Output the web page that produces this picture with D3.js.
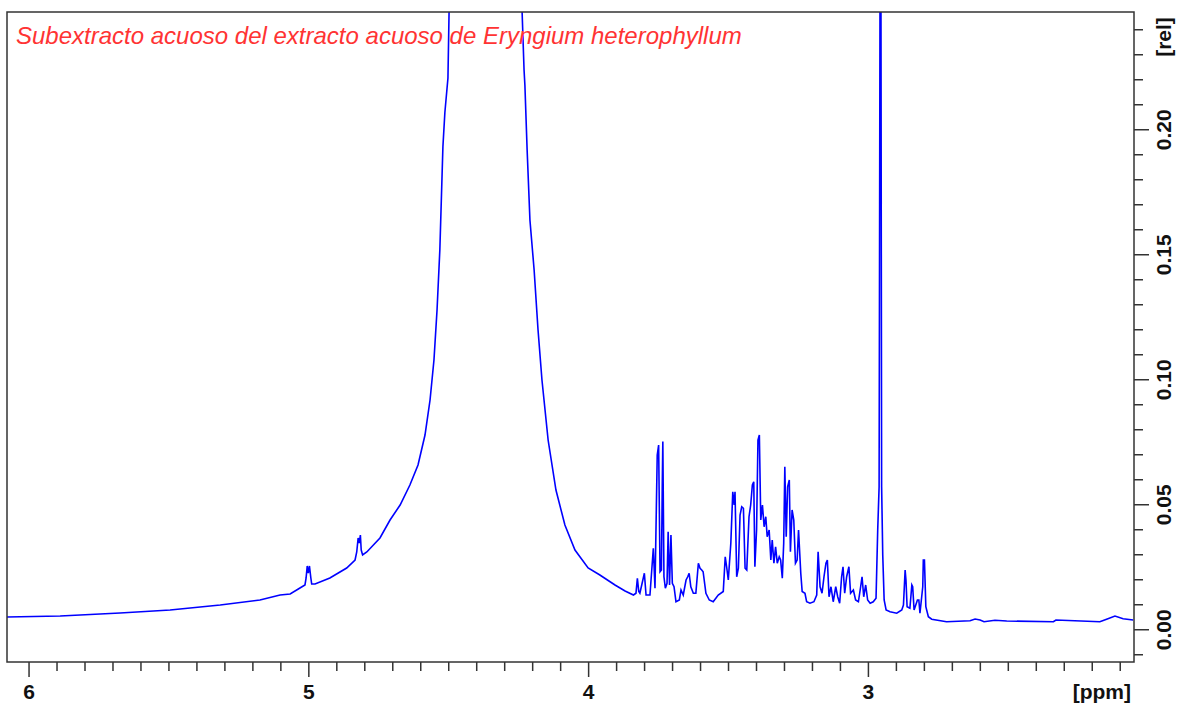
<!DOCTYPE html>
<html>
<head>
<meta charset="utf-8">
<script src="https://cdn.jsdelivr.net/npm/d3@7"></script>
<style>
  body { margin: 0; background: #fff; }
  svg { display: block; }
</style>
</head>
<body>
<div id="chart"></div>
<script>
// Chart text
var title = "Subextracto acuoso del extracto acuoso de Eryngium heterophyllum";
var xUnit = "[ppm]";
var yUnit = "[rel]";

// Tick values
var xMajor = [6, 5, 4, 3];
var yMajor = [0.00, 0.05, 0.10, 0.15, 0.20];

// Spectrum (chemical shift in ppm, relative intensity)
var ppm = [
  6.077, 5.887, 5.673, 5.494, 5.315, 5.173, 5.101, 5.065, 5.030, 5.012,
  5.008, 5.004, 5.000, 4.996, 4.991, 4.988, 4.976, 4.923, 4.863, 4.833,
  4.827, 4.822, 4.818, 4.814, 4.811, 4.806, 4.791, 4.744, 4.708, 4.672,
  4.637, 4.608, 4.583, 4.565, 4.551, 4.540, 4.530, 4.519, 4.512, 4.501,
  4.497, 4.458, 4.368, 4.279, 4.236, 4.229, 4.226, 4.218, 4.208, 4.193,
  4.179, 4.165, 4.143, 4.115, 4.083, 4.047, 4.000, 3.958, 3.904, 3.868,
  3.838, 3.829, 3.824, 3.819, 3.815, 3.799, 3.793, 3.779, 3.767, 3.761,
  3.753, 3.748, 3.743, 3.738, 3.735, 3.733, 3.729, 3.724, 3.718, 3.714,
  3.709, 3.704, 3.699, 3.693, 3.686, 3.674, 3.668, 3.660, 3.650, 3.644,
  3.639, 3.633, 3.624, 3.615, 3.606, 3.600, 3.594, 3.589, 3.579, 3.567,
  3.553, 3.535, 3.517, 3.510, 3.505, 3.499, 3.490, 3.483, 3.478, 3.475,
  3.469, 3.463, 3.457, 3.451, 3.445, 3.439, 3.433, 3.425, 3.419, 3.413,
  3.408, 3.404, 3.398, 3.393, 3.388, 3.383, 3.377, 3.371, 3.365, 3.360,
  3.353, 3.347, 3.342, 3.336, 3.330, 3.324, 3.317, 3.312, 3.306, 3.301,
  3.297, 3.292, 3.287, 3.281, 3.277, 3.271, 3.265, 3.259, 3.253, 3.248,
  3.240, 3.235, 3.225, 3.219, 3.207, 3.193, 3.183, 3.178, 3.171, 3.164,
  3.157, 3.150, 3.145, 3.139, 3.132, 3.124, 3.115, 3.108, 3.101, 3.094,
  3.089, 3.083, 3.076, 3.068, 3.062, 3.052, 3.044, 3.034, 3.026, 3.021,
  3.015, 3.008, 3.001, 2.992, 2.981, 2.971, 2.965, 2.960, 2.956, 2.955,
  2.954, 2.951, 2.947, 2.942, 2.935, 2.921, 2.897, 2.879, 2.873, 2.867,
  2.864, 2.860, 2.850, 2.843, 2.840, 2.835, 2.823, 2.818, 2.814, 2.804,
  2.802, 2.798, 2.793, 2.784, 2.772, 2.719, 2.635, 2.617, 2.599, 2.585,
  2.546, 2.504, 2.337, 2.328, 2.171, 2.147, 2.117, 2.088, 2.052
];
var intensity = [
  0.0049, 0.0053, 0.0065, 0.0077, 0.0097, 0.0117, 0.0137, 0.0141, 0.0165, 0.0177,
  0.0205, 0.0253, 0.0225, 0.0253, 0.0205, 0.0181, 0.0181, 0.0205, 0.0245, 0.0277,
  0.0309, 0.0365, 0.0345, 0.0377, 0.0317, 0.0297, 0.0309, 0.0365, 0.0437, 0.0497,
  0.0577, 0.0657, 0.0777, 0.0917, 0.1077, 0.1277, 0.1517, 0.1930, 0.2067, 0.2205,
  0.2470, 0.4000, 0.8000, 0.4000, 0.2470, 0.2237, 0.2177, 0.1917, 0.1637, 0.1437,
  0.1197, 0.0997, 0.0757, 0.0557, 0.0417, 0.0317, 0.0245, 0.0217, 0.0177, 0.0153,
  0.0137, 0.0144, 0.0204, 0.0151, 0.0144, 0.0224, 0.0137, 0.0137, 0.0324, 0.0164,
  0.0697, 0.0737, 0.0230, 0.0237, 0.0577, 0.0751, 0.0210, 0.0164, 0.0184, 0.0390,
  0.0177, 0.0377, 0.0184, 0.0170, 0.0110, 0.0117, 0.0157, 0.0137, 0.0197, 0.0210,
  0.0224, 0.0170, 0.0144, 0.0144, 0.0264, 0.0244, 0.0237, 0.0230, 0.0144, 0.0117,
  0.0110, 0.0137, 0.0151, 0.0290, 0.0250, 0.0197, 0.0344, 0.0550, 0.0497, 0.0550,
  0.0210, 0.0244, 0.0457, 0.0490, 0.0484, 0.0244, 0.0237, 0.0450, 0.0497, 0.0577,
  0.0590, 0.0250, 0.0397, 0.0757, 0.0777, 0.0437, 0.0497, 0.0410, 0.0450, 0.0370,
  0.0397, 0.0277, 0.0357, 0.0264, 0.0330, 0.0264, 0.0290, 0.0277, 0.0204, 0.0344,
  0.0650, 0.0370, 0.0570, 0.0597, 0.0310, 0.0477, 0.0437, 0.0264, 0.0277, 0.0397,
  0.0224, 0.0151, 0.0144, 0.0110, 0.0104, 0.0110, 0.0137, 0.0310, 0.0170, 0.0144,
  0.0210, 0.0264, 0.0277, 0.0130, 0.0170, 0.0110, 0.0170, 0.0130, 0.0104, 0.0210,
  0.0250, 0.0144, 0.0210, 0.0250, 0.0144, 0.0157, 0.0117, 0.0110, 0.0170, 0.0210,
  0.0130, 0.0177, 0.0117, 0.0104, 0.0110, 0.0124, 0.0397, 0.0570, 0.3000, 0.6000,
  0.3000, 0.0570, 0.0297, 0.0117, 0.0077, 0.0070, 0.0064, 0.0077, 0.0097, 0.0237,
  0.0197, 0.0090, 0.0084, 0.0177, 0.0170, 0.0077, 0.0117, 0.0117, 0.0064, 0.0170,
  0.0277, 0.0277, 0.0090, 0.0050, 0.0040, 0.0030, 0.0034, 0.0041, 0.0037, 0.0030,
  0.0036, 0.0033, 0.0030, 0.0037, 0.0030, 0.0040, 0.0053, 0.0042, 0.0037
];

function init() {

    var W = 1177;
    var H = 704;
    var left = 7, top = 12, right = 1134, bottom = 662;
    var axisColor = "#333";
    var fontFam = "'Liberation Sans', Arial, sans-serif";

    var xScale = d3.scaleLinear()
                    .domain([6.077, 2.049])
                    .range([left, right]);

    var yScale = d3.scaleLinear()
                    .domain([-0.0131, 0.2469])
                    .range([bottom, top]);

    var svg = d3.select("#chart")
                .append("svg")
                .attr("width", W)
                .attr("height", H);

    svg.append("defs").append("clipPath")
        .attr("id", "plotClip")
        .append("rect")
        .attr("x", left)
        .attr("y", top)
        .attr("width", right - left)
        .attr("height", bottom - top);

    // spectrum line
    var points = ppm.map(function(p, i) { return [p, intensity[i]]; });
    var line = d3.line()
                .x(function(d) { return xScale(d[0]); })
                .y(function(d) { return yScale(d[1]); });

    svg.append("path")
        .datum(points)
        .attr("clip-path", "url(#plotClip)")
        .attr("fill", "none")
        .attr("stroke", "#0000ff")
        .attr("stroke-width", 1.6)
        .attr("stroke-linejoin", "miter")
        .attr("d", line);

    // frame
    svg.append("rect")
        .attr("x", left)
        .attr("y", top)
        .attr("width", right - left)
        .attr("height", bottom - top)
        .attr("fill", "none")
        .attr("stroke", axisColor)
        .attr("stroke-width", 1.5);

    // x axis: minor then major ticks
    var xMinor = d3.range(60, 20, -1).map(function(v) { return v / 10; })
                    .filter(function(v) { return xMajor.indexOf(v) < 0; });

    var xMinorAxis = d3.axisBottom(xScale)
                    .tickValues(xMinor)
                    .tickSize(9)
                    .tickFormat("");
    var xMajorAxis = d3.axisBottom(xScale)
                    .tickValues(xMajor)
                    .tickSize(15)
                    .tickPadding(7)
                    .tickFormat(d3.format("d"));

    [xMinorAxis, xMajorAxis].forEach(function(ax) {
        var g = svg.append("g")
            .attr("transform", "translate(0," + bottom + ")")
            .call(ax);
        g.select(".domain").remove();
        g.selectAll("line").attr("stroke", axisColor).attr("stroke-width", 1.5);
        g.selectAll("text")
            .attr("fill", "#111")
            .style("font-family", fontFam)
            .style("font-weight", "bold")
            .style("font-size", "21px");
    });

    svg.append("text")
        .attr("x", 1131)
        .attr("y", 699)
        .attr("text-anchor", "end")
        .style("font-family", fontFam)
        .style("font-weight", "bold")
        .style("font-size", "21px")
        .attr("fill", "#111")
        .text(xUnit);

    // y axis on the right
    var yMinor = d3.range(-1, 25).map(function(v) { return v / 100; })
                    .filter(function(v) { return v % 0.05 > 0.001 && v % 0.05 < 0.049 || v < 0; });

    var yMinorAxis = d3.axisRight(yScale)
                    .tickValues(yMinor)
                    .tickSize(9)
                    .tickFormat("");
    var yMajorAxis = d3.axisRight(yScale)
                    .tickValues(yMajor)
                    .tickSize(15)
                    .tickFormat(d3.format(".2f"));

    [yMinorAxis, yMajorAxis].forEach(function(ax) {
        var g = svg.append("g")
            .attr("transform", "translate(" + right + ",0)")
            .call(ax);
        g.select(".domain").remove();
        g.selectAll("line").attr("stroke", axisColor).attr("stroke-width", 1.5);
        g.selectAll("text")
            .attr("transform", "rotate(-90)")
            .attr("x", 0)
            .attr("y", 30)
            .attr("dy", "0.35em")
            .attr("text-anchor", "middle")
            .attr("fill", "#111")
            .style("font-family", fontFam)
            .style("font-weight", "bold")
            .style("font-size", "21px");
    });

    svg.append("text")
        .attr("transform", "translate(" + (right + 30) + ",37) rotate(-90)")
        .attr("dy", "0.35em")
        .attr("text-anchor", "middle")
        .style("font-family", fontFam)
        .style("font-weight", "bold")
        .style("font-size", "21px")
        .attr("fill", "#111")
        .text(yUnit);

    // title
    svg.append("text")
        .attr("x", 16)
        .attr("y", 44)
        .style("font-family", fontFam)
        .style("font-style", "italic")
        .style("font-size", "24px")
        .attr("fill", "#ff3333")
        .text(title);
}
window.onload = init;
</script>
</body>
</html>
